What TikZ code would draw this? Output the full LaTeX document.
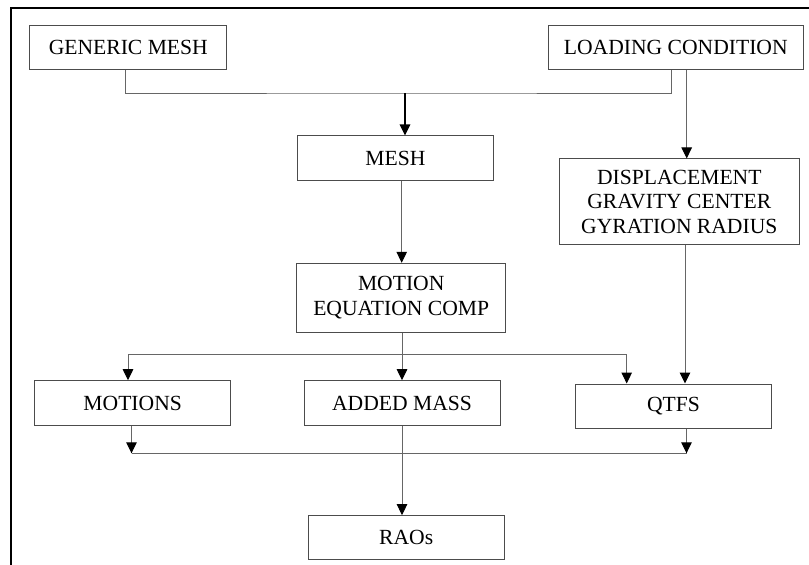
\documentclass[tikz,border=0pt]{standalone}
\usepackage{fontspec}
\setmainfont{Liberation Serif}
\usetikzlibrary{arrows.meta}
\begin{document}
\begin{tikzpicture}[x=1pt,y=-1pt,
  box/.style={draw=black!70,line width=1pt,inner sep=0pt,align=center,
    font=\fontsize{21.6}{24.5}\selectfont},
  conn/.style={draw=black!60,line width=1pt},
  arr/.style={conn,-{Triangle[width=10.5pt,length=11pt,color=black]}},
  frame/.style={line width=2.3pt,black}]
\useasboundingbox (0,0) rectangle (809,565);
\draw[frame] (809,8) -- (11,8) -- (11,565);
% nodes
\node[box,minimum width=196.7pt,minimum height=44.4pt] (gm) at (128.3,47.5) {GENERIC MESH};
\node[box,minimum width=255pt,minimum height=44.4pt] (lc) at (675.8,47.5) {LOADING CONDITION};
\node[box,minimum width=195.6pt,minimum height=44.7pt] (mesh) at (395.5,158.3) {MESH};
\node[box,minimum width=240pt,minimum height=85.7pt] (disp) at (679.3,201.8) {DISPLACEMENT\\GRAVITY CENTER\\GYRATION RADIUS};
\node[box,minimum width=209pt,minimum height=69pt] (mec) at (401.2,297.8) {MOTION\\EQUATION COMP};
\node[box,minimum width=196pt,minimum height=45pt] (mot) at (132.7,403.2) {MOTIONS};
\node[box,minimum width=196pt,minimum height=45pt] (am) at (402,403.2) {ADDED MASS};
\node[box,minimum width=195.6pt,minimum height=44pt] (qtfs) at (673.5,406) {QTFS};
\node[box,minimum width=196.3pt,minimum height=44.3pt] (rao) at (406.2,537.8) {RAOs};
% junction coordinates
\coordinate (j1) at (405,93);
\coordinate (j2) at (128,354.3);
\coordinate (j3) at (626.7,354.3);
\coordinate (m1) at (131.5,453.3);
\coordinate (m2) at (686.5,453.3);
% connectors
\draw[conn] (gm.south -| 125,0) |- (j1) -| (lc.south -| 671.7,0);
\draw[-{Triangle[width=10.5pt,length=11pt]},line width=1.6pt,black] (j1) -- (mesh.north -| j1);
\draw[arr] (lc.south -| 686.7,0) -- (disp.north -| 686.7,0);
\draw[arr] (mesh.south -| 401.7,0) -- (mec.north -| 401.7,0);
\draw[arr] (mec.south -| 402,0) -- (am.north -| 402,0);
\draw[conn] (j2) -- (j3);
\draw[arr] (j2) -- (mot.north -| j2);
\draw[arr] (j3) -- (qtfs.north -| j3);
\draw[arr] (disp.south -| 685,0) -- (qtfs.north -| 685,0);
\draw[arr] (mot.south -| m1) -- (m1);
\draw[arr] (qtfs.south -| m2) -- (m2);
\draw[conn] (m1) -- (m2);
\draw[arr] (am.south -| 402,0) -- (rao.north -| 402,0);
\end{tikzpicture}
\end{document}
